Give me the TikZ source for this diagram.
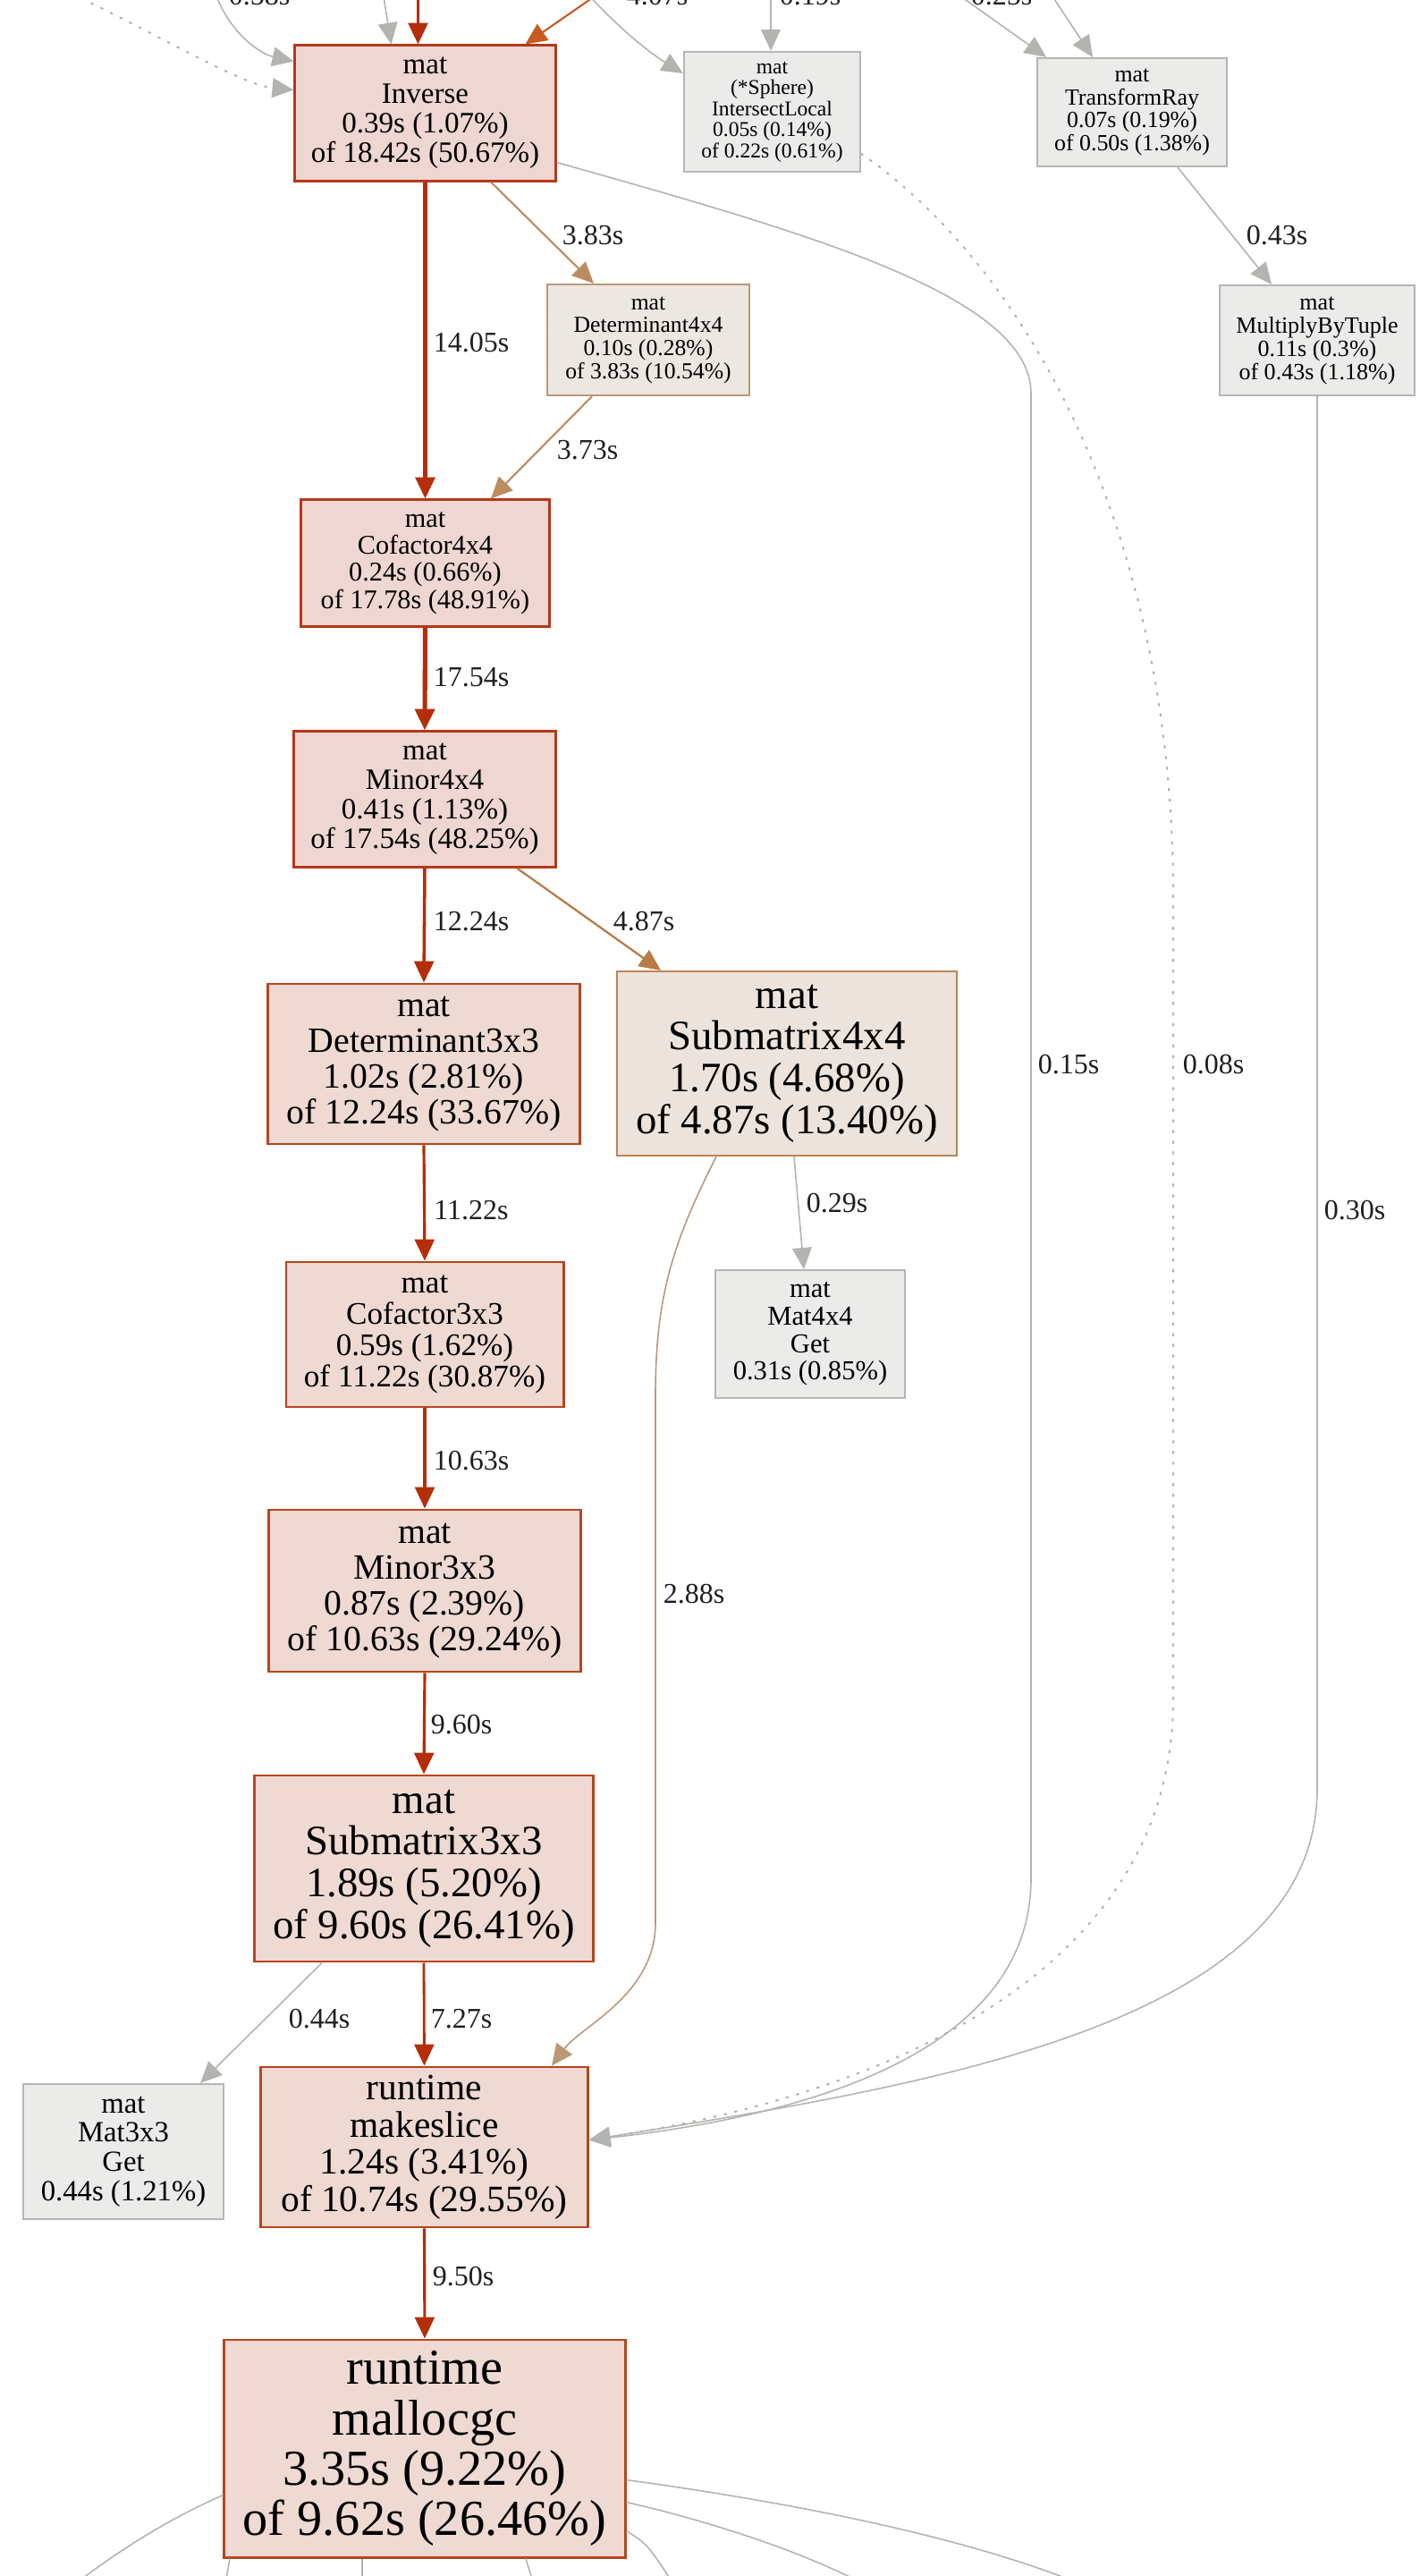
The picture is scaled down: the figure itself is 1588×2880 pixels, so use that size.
\documentclass[tikz,border=0pt]{standalone}
\usepackage{fontspec}
\setmainfont{Liberation Serif}
\usetikzlibrary{arrows.meta,calc}

% node colours
\definecolor{hotfill}{HTML}{EED6D2}
\definecolor{hotline}{HTML}{B5381C}
\definecolor{warmfill}{HTML}{EED9D3}
\definecolor{warmline}{HTML}{B5461F}
\definecolor{tanfill}{HTML}{EDE3DD}
\definecolor{tanline}{HTML}{BA8556}
\definecolor{palefill}{HTML}{EDE7E1}
\definecolor{paleline}{HTML}{BB9878}
\definecolor{grayfill}{HTML}{EBEBEA}
\definecolor{grayline}{HTML}{B5B5B2}
% edge colours
\definecolor{hotedge}{HTML}{B52E0A}
\definecolor{orangeedge}{HTML}{C85A22}
\definecolor{tanedge}{HTML}{BB8C60}
\definecolor{tanedgeB}{HTML}{B97C46}
\definecolor{tanedgeC}{HTML}{BC9877}
\definecolor{grayedge}{HTML}{B3B3AF}

\tikzset{
  fn/.style={font=\fontsize{#1}{#1}\selectfont},
  nbox/.style={draw, rectangle, align=center, inner sep=0pt, text=black},
  hotbox/.style={nbox, fill=hotfill, draw=hotline, line width=0.85pt},
  warmbox/.style={nbox, fill=warmfill, draw=warmline, line width=0.8pt},
  tanbox/.style={nbox, fill=tanfill, draw=tanline, line width=0.6pt},
  palebox/.style={nbox, fill=palefill, draw=paleline, line width=0.6pt},
  graybox/.style={nbox, fill=grayfill, draw=grayline, line width=0.6pt},
  lbl/.style={font=\fontsize{9.1pt}{9.1pt}\selectfont, text=black!88, inner sep=0pt},
  tip/.style={-{Triangle[length=6.8pt,width=6.2pt]}},
  hotarrow/.style={tip, draw=hotedge, line width=#1},
  orangearrow/.style={tip, draw=orangeedge, line width=0.6pt},
  tanarrow/.style={tip, draw=tanedge, line width=0.6pt},
  tanarrowB/.style={tip, draw=tanedgeB, line width=0.65pt},
  tanarrowC/.style={tip, draw=tanedgeC, line width=0.45pt},
  grayarrow/.style={tip, draw=grayedge, line width=0.45pt},
  graydots/.style={tip, draw=grayedge, line width=0.6pt,
    dash pattern=on 0.6pt off 2.8pt, line cap=round},
  grayline/.style={draw=grayedge, line width=0.45pt},
}

\begin{document}
\begin{tikzpicture}[x=0.01cm, y=-0.01cm]
\fill[white] (0,0) rectangle (1588,2880);
\useasboundingbox (0,0) rectangle (1588,2880);

% ---------- call-graph nodes ----------
\node[hotbox, fn=9.4pt, minimum width=2.91cm, minimum height=1.51cm] (inv) at (475.5,126.5)
  {mat\\Inverse\\0.39s (1.07\%)\\of 18.42s (50.67\%)};
\node[graybox, fn=6.7pt, minimum width=1.97cm, minimum height=1.34cm] (isl) at (863.5,125)
  {mat\\(*Sphere)\\IntersectLocal\\0.05s (0.14\%)\\of 0.22s (0.61\%)};
\node[graybox, fn=7.35pt, minimum width=2.12cm, minimum height=1.21cm] (tray) at (1266,125.5)
  {mat\\TransformRay\\0.07s (0.19\%)\\of 0.50s (1.38\%)};
\node[graybox, fn=7.4pt, minimum width=2.18cm, minimum height=1.23cm] (mbt) at (1473,380.5)
  {mat\\MultiplyByTuple\\0.11s (0.3\%)\\of 0.43s (1.18\%)};
\node[palebox, fn=7.3pt, minimum width=2.26cm, minimum height=1.24cm] (det4) at (725,380)
  {mat\\Determinant4x4\\0.10s (0.28\%)\\of 3.83s (10.54\%)};
\node[hotbox, fn=8.6pt, minimum width=2.77cm, minimum height=1.41cm] (cof4) at (475.5,629.5)
  {mat\\Cofactor4x4\\0.24s (0.66\%)\\of 17.78s (48.91\%)};
\node[hotbox, fn=9.4pt, minimum width=2.92cm, minimum height=1.51cm] (min4) at (475,893.5)
  {mat\\Minor4x4\\0.41s (1.13\%)\\of 17.54s (48.25\%)};
\node[warmbox, fn=11.3pt, minimum width=3.48cm, minimum height=1.79cm] (det3) at (474,1189.5)
  {mat\\Determinant3x3\\1.02s (2.81\%)\\of 12.24s (33.67\%)};
\node[tanbox, fn=13.3pt, minimum width=3.80cm, minimum height=2.06cm] (sub4) at (880,1189)
  {mat\\Submatrix4x4\\1.70s (4.68\%)\\of 4.87s (13.40\%)};
\node[warmbox, fn=10pt, minimum width=3.10cm, minimum height=1.62cm] (cof3) at (475,1492)
  {mat\\Cofactor3x3\\0.59s (1.62\%)\\of 11.22s (30.87\%)};
\node[graybox, fn=8.7pt, minimum width=2.12cm, minimum height=1.43cm] (m4get) at (906,1491.5)
  {mat\\Mat4x4\\Get\\0.31s (0.85\%)};
\node[warmbox, fn=11.3pt, minimum width=3.48cm, minimum height=1.81cm] (min3) at (475,1778.5)
  {mat\\Minor3x3\\0.87s (2.39\%)\\of 10.63s (29.24\%)};
\node[warmbox, fn=13.3pt, minimum width=3.78cm, minimum height=2.08cm] (sub3) at (474,2089)
  {mat\\Submatrix3x3\\1.89s (5.20\%)\\of 9.60s (26.41\%)};
\node[graybox, fn=9.3pt, minimum width=2.24cm, minimum height=1.51cm] (m3get) at (138,2405.5)
  {mat\\Mat3x3\\Get\\0.44s (1.21\%)};
\node[warmbox, fn=11.8pt, minimum width=3.65cm, minimum height=1.79cm] (mks) at (474.5,2400.5)
  {runtime\\makeslice\\1.24s (3.41\%)\\of 10.74s (29.55\%)};
\node[warmbox, fn=16pt, minimum width=4.48cm, minimum height=2.43cm] (mgc) at (475,2737.5)
  {runtime\\mallocgc\\3.35s (9.22\%)\\of 9.62s (26.46\%)};

% ---------- callers entering from above ----------
\coordinate (inA) at (70,-12);
\coordinate (inB) at (240,-10);
\coordinate (inC) at (428,-10);
\coordinate (inD) at (467.5,-10);
\coordinate (inE) at (695,-25);
\coordinate (inF) at (645,-20);
\coordinate (inG) at (862,-10);
\coordinate (inH) at (1066,-10);
\coordinate (inI) at (1173,-10);

\draw[graydots] (inA) .. controls (180,40) and (270,95) .. ($(inv.west)+(0,-26)$);
\draw[grayarrow] (inB) .. controls (255,35) and (290,60) .. ($(inv.west)+(0,-58)$);
\draw[grayarrow] (inC) -- ($(inv.north)+(-38,0)$);
\draw[hotarrow=1pt] (inD) -- ($(inv.north)+(-8,0)$);
\draw[orangearrow] (inE) -- ($(inv.north)+(112,0)$);
\draw[grayarrow] (inF) .. controls (680,20) and (720,55) .. ($(isl.west)+(0,-43)$);
\draw[grayarrow] (inG) -- ($(isl.north)+(-1.5,0)$);
\draw[grayarrow] (inH) -- ($(tray.north)+(-96,0)$);
\draw[grayarrow] (inI) -- ($(tray.north)+(-44,0)$);

\node[lbl, anchor=base] (t1) at (290,5) {0.58s};
\node[lbl, anchor=base] (t2) at (735,5) {4.07s};
\node[lbl, anchor=base] (t3) at (906,5) {0.19s};
\node[lbl, anchor=base] (t4) at (1120,5) {0.25s};

% ---------- main column ----------
\draw[hotarrow=1.15pt] (inv.south) -- (cof4.north);
\draw[hotarrow=1.45pt] (cof4.south) -- (min4.north);
\draw[hotarrow=1pt] (min4.south) -- (det3.north);
\draw[hotarrow=0.9pt] (det3.south) -- (cof3.north);
\draw[hotarrow=0.9pt] (cof3.south) -- (min3.north);
\draw[hotarrow=0.9pt] (min3.south) -- (sub3.north);
\draw[hotarrow=0.8pt] (sub3.south) -- (mks.north);
\draw[hotarrow=0.9pt] (mks.south) -- (mgc.north);

% ---------- side branches ----------
\draw[tanarrow] ($(inv.south)+(73.5,0)$) -- ($(det4.north)+(-61,0)$);
\draw[tanarrow] ($(det4.south)+(-63,0)$) -- ($(cof4.north)+(73.5,0)$);
\draw[tanarrowB] ($(min4.south)+(103,0)$) -- ($(sub4.north)+(-141,0)$);
\draw[grayarrow] ($(sub4.south)+(8,0)$) -- ($(m4get.north)+(-7,0)$);
\draw[grayarrow] ($(sub3.south)+(-114,0)$) -- ($(m3get.north)+(86,0)$);
\draw[grayarrow] ($(tray.south)+(51,0)$) -- ($(mbt.north)+(-51,0)$);

% long edges into makeslice
\draw[tanarrowC] ($(sub4.south)+(-79,0)$) .. controls (752,1390) and (733,1450) .. (733,1560)
  -- (733,2150) .. controls (733,2230) and (650,2265) .. ($(mks.north)+(142.5,0)$);
\draw[grayarrow] ($(inv.east)+(0,55)$) .. controls (900,260) and (1153,330) .. (1153,440)
  -- (1153,2100) .. controls (1153,2310) and (860,2370) .. ($(mks.east)+(0,-8)$);
\draw[graydots] ($(isl.east)+(0,47)$) .. controls (1150,300) and (1312,600) .. (1312,1000)
  -- (1312,1900) .. controls (1312,2200) and (1000,2340) .. ($(mks.east)+(0,-8)$);
\draw[grayarrow] (mbt.south) -- (1473,2000) .. controls (1473,2260) and (1050,2330)
  .. ($(mks.east)+(0,-8)$);

% ---------- callees of mallocgc leaving below ----------
\coordinate (outA) at (70,2900);
\coordinate (outB) at (250,2900);
\coordinate (outC) at (405,2900);
\coordinate (outD) at (600,2900);
\coordinate (outE) at (760,2900);
\coordinate (outF) at (985,2900);
\coordinate (outG) at (1235,2900);
\draw[grayline] ($(mgc.west)+(0,52)$) .. controls (180,2820) and (120,2860) .. (outA);
\draw[grayline] ($(mgc.south)+(-218,0)$) -- (outB);
\draw[grayline] ($(mgc.south)+(-70,0)$) -- (outC);
\draw[grayline] ($(mgc.south)+(113,0)$) -- (outD);
\draw[grayline] ($(mgc.east)+(0,92)$) .. controls (725,2845) .. (outE);
\draw[grayline] ($(mgc.east)+(0,60)$) .. controls (800,2820) and (920,2860) .. (outF);
\draw[grayline] ($(mgc.east)+(0,35)$) .. controls (900,2800) and (1100,2840) .. (outG);

% ---------- edge weights ----------
\node[lbl] (w1) at (663,263) {3.83s};
\node[lbl] (w2) at (527,383) {14.05s};
\node[lbl] (w3) at (657,503) {3.73s};
\node[lbl] (w4) at (527,757) {17.54s};
\node[lbl] (w5) at (527,1030) {12.24s};
\node[lbl] (w6) at (720,1030) {4.87s};
\node[lbl] (w7) at (527,1353) {11.22s};
\node[lbl] (w8) at (936,1345) {0.29s};
\node[lbl] (w9) at (527,1633) {10.63s};
\node[lbl] (w10) at (516,1928) {9.60s};
\node[lbl] (w11) at (776,1782) {2.88s};
\node[lbl] (w12) at (1195,1190) {0.15s};
\node[lbl] (w13) at (1357,1190) {0.08s};
\node[lbl] (w14) at (1515,1353) {0.30s};
\node[lbl] (w15) at (1428,263) {0.43s};
\node[lbl] (w16) at (357,2257) {0.44s};
\node[lbl] (w17) at (516,2257) {7.27s};
\node[lbl] (w18) at (518,2545) {9.50s};
\end{tikzpicture}
\end{document}
